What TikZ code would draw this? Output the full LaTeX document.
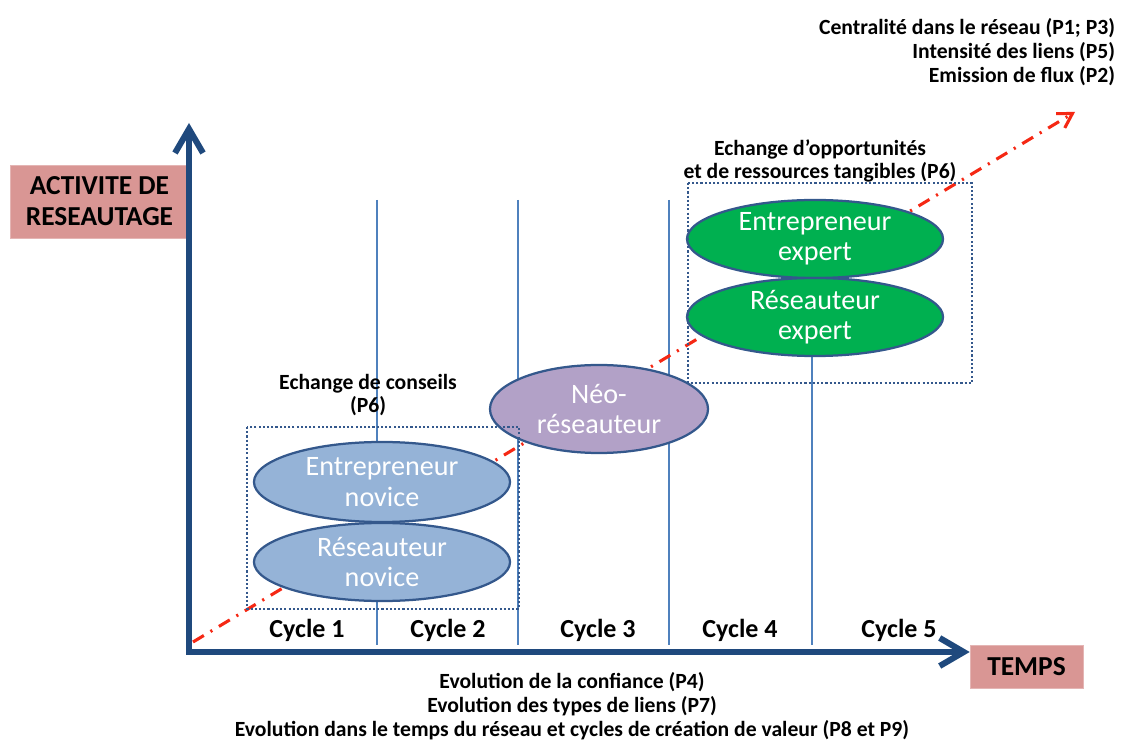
\documentclass[tikz,border=0pt]{standalone}
\usepackage{fontspec}
\setmainfont{Carlito}
\usetikzlibrary{shapes.geometric,arrows.meta}
\definecolor{axisblue}{RGB}{31,73,125}
\definecolor{cycleblue}{RGB}{79,129,189}
\definecolor{rimblue}{RGB}{52,88,140}
\definecolor{noviceblue}{RGB}{149,179,215}
\definecolor{neomauve}{RGB}{178,161,199}
\definecolor{expertgreen}{RGB}{0,176,80}
\definecolor{labelpink}{RGB}{217,150,148}
\definecolor{flowred}{RGB}{245,40,20}
\begin{document}
\begin{tikzpicture}[x=0.025cm,y=-0.025cm]
\tikzstyle{actor}=[ellipse,draw=rimblue,line width=1.6pt,text=white,inner sep=0pt,align=center,font=\fontsize{20}{21.5}\selectfont]
\tikzstyle{axislabel}=[rectangle,fill=labelpink,draw=labelpink!70,inner sep=0pt,align=center,font=\bfseries\fontsize{19.5}{22}\selectfont]
\tikzstyle{note}=[align=center,font=\bfseries\fontsize{15.4}{17}\selectfont]
\tikzstyle{cycle}=[font=\bfseries\fontsize{18.5}{21}\selectfont]
\tikzstyle{group}=[draw=rimblue,line width=2pt,dash pattern=on 1.5pt off 1.5pt]
\tikzstyle{axis}=[draw=axisblue,line width=4.3pt,{Straight Barb[length=6mm,width=7mm]}-{Straight Barb[length=6mm,width=7mm]}]
\tikzstyle{flow}=[draw=flowred,line width=2.2pt,dash pattern=on 9pt off 5.5pt on 1.5pt off 5.5pt,-{Straight Barb[length=3.5mm,width=4.2mm]}]
\useasboundingbox (0,0) rectangle (1131,740);
\foreach \x in {377,518,669,812}
  \draw[cycleblue,line width=1pt] (\x,200) -- (\x,645);
\node[axislabel,minimum width=4.475cm,minimum height=1.825cm] (activite) at (99.5,201.5) {ACTIVITE DE\\RESEAUTAGE};
\node[axislabel,minimum width=2.825cm,minimum height=1.075cm] (temps) at (1026.5,666.5) {TEMPS};
\coordinate (ytop) at (189,123);
\coordinate (origin) at (189,652);
\draw[axis] (ytop) -- (origin) -- (origin -| temps.west);
\coordinate (flowstart) at (193,642);
\coordinate (flowend) at (1075,112);
\draw[flow] (flowstart) -- (flowend);
\node[actor,fill=noviceblue,minimum width=6.4cm,minimum height=2cm] (entnovice) at (382,482) {Entrepreneur\\novice};
\node[actor,fill=noviceblue,minimum width=6.4cm,minimum height=1.95cm] (resnovice) at (382,562) {Réseauteur\\novice};
\node[actor,fill=neomauve,minimum width=5.45cm,minimum height=2.2cm] (neo) at (599,409) {Néo-\\réseauteur};
\node[actor,fill=expertgreen,minimum width=6.4cm,minimum height=1.95cm] (entexpert) at (815,239) {Entrepreneur\\expert};
\node[actor,fill=expertgreen,minimum width=6.4cm,minimum height=1.95cm] (resexpert) at (815,317) {Réseauteur\\expert};
\draw[group] (247,427) rectangle (519,609);
\draw[group] (688,183) rectangle (972,383);
\node[note] (conseils) at (368,395) {Echange de conseils\\(P6)};
\node[note] (opport) at (820,161) {Echange d’opportunités\\et de ressources tangibles (P6)};
\node[note,align=right,anchor=east] (centralite) at (1120,52) {Centralité dans le réseau (P1; P3)\\Intensité des liens (P5)\\Emission de flux (P2)};
\node[note] (evolution) at (572,706) {Evolution de la confiance (P4)\\Evolution des types de liens (P7)\\Evolution dans le temps du réseau et cycles de création de valeur (P8 et P9)};
\node[cycle] (c1) at (307,630) {Cycle 1};
\node[cycle] (c2) at (448,630) {Cycle 2};
\node[cycle] (c3) at (598,630) {Cycle 3};
\node[cycle] (c4) at (740,630) {Cycle 4};
\node[cycle] (c5) at (899,630) {Cycle 5};
\end{tikzpicture}
\end{document}
